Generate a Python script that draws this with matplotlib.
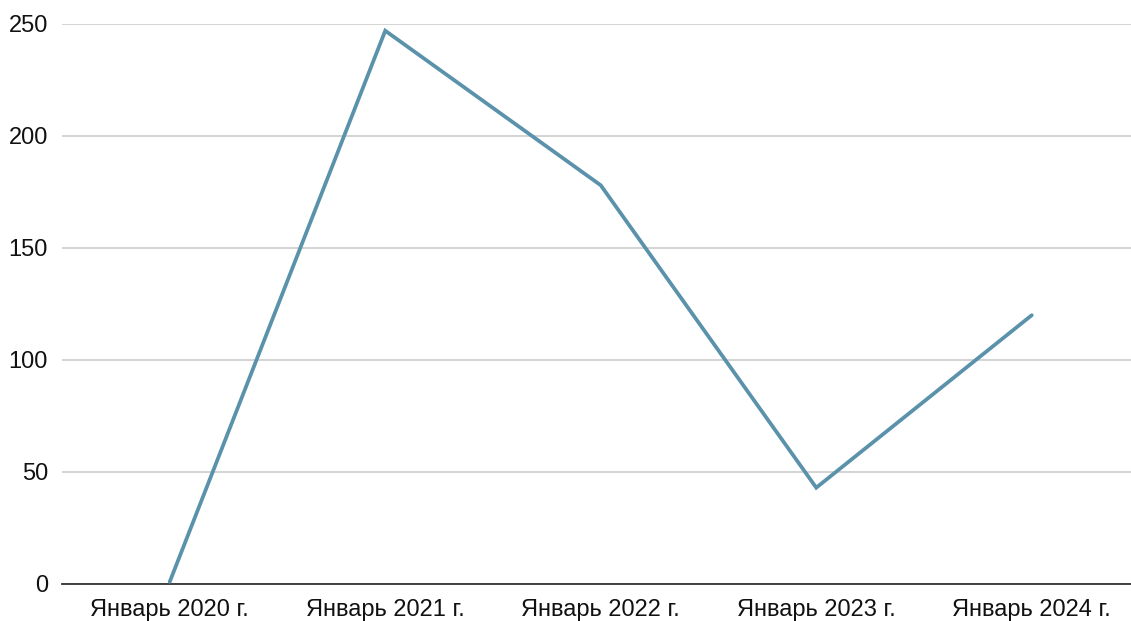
import matplotlib.pyplot as plt

plt.rcParams['font.family'] = ['Liberation Sans', 'DejaVu Sans']

# данные
labels = ["Январь 2020 г.", "Январь 2021 г.", "Январь 2022 г.", "Январь 2023 г.", "Январь 2024 г."]
values = [1, 247, 178, 43, 120]
yticks = [0, 50, 100, 150, 200, 250]

W, H = 1131, 621
fig = plt.figure(figsize=(W / 100, H / 100), dpi=100)
# axes goes a bit past the right edge like in the source image
ax = fig.add_axes([62 / W, 1 - 584 / H, 5 * 215.5 / W, 560 / H])

x = list(range(len(labels)))
ax.plot(x, values, color='#5a91ab', linewidth=2.7, solid_joinstyle='miter',
        solid_capstyle='round', zorder=3)

ax.set_xlim(-0.5, 4.5)
ax.set_ylim(0, 250)
ax.set_yticks(yticks)
ax.set_xticks(x)
ax.set_xticklabels(labels)

ax.grid(axis='y', color='#cccccc', linewidth=1.2)
ax.set_axisbelow(True)
for s in ['top', 'right', 'left']:
    ax.spines[s].set_visible(False)
ax.spines['bottom'].set_color('#333333')
ax.spines['bottom'].set_linewidth(1.3)
ax.spines['bottom'].set_zorder(2)

ax.tick_params(axis='both', length=0, labelsize=17, colors='#111111')
ax.tick_params(axis='y', pad=10)
ax.tick_params(axis='x', pad=11)

fig.savefig("out.png", dpi=100)
